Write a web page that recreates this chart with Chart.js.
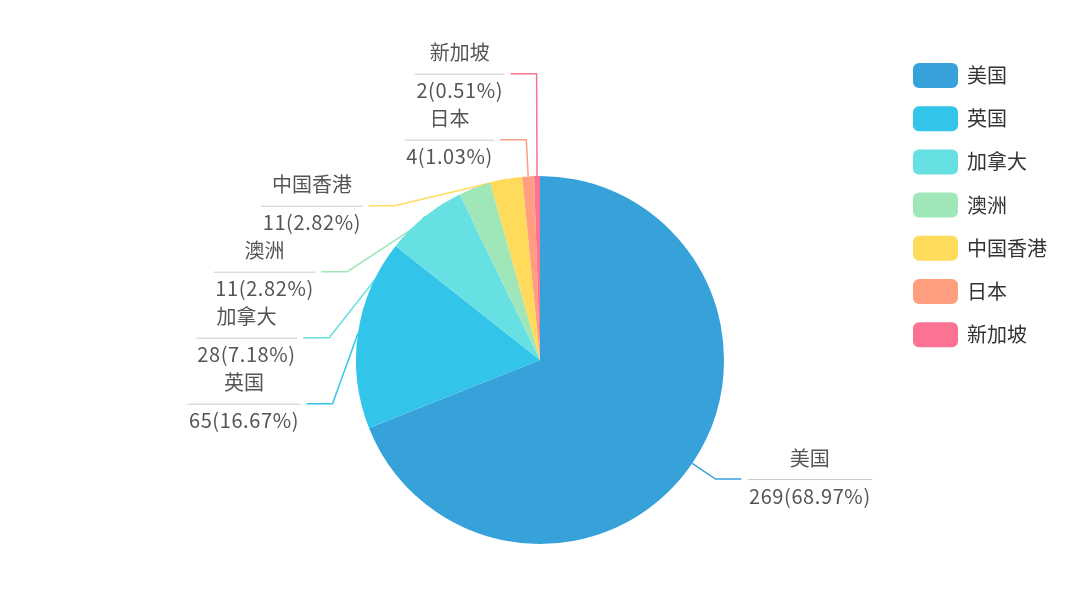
<!DOCTYPE html>
<html>
<head>
<meta charset="utf-8">
<script src="https://cdn.jsdelivr.net/npm/chart.js@4"></script>
<style>
	html, body { margin: 0; padding: 0; background: #ffffff; }
	#chart { display: block; }
</style>
</head>
<body>
<canvas id="chart" width="1080" height="589"></canvas>
<script>
// regions and the counts per region
const regions = ["美国", "英国", "加拿大", "澳洲", "中国香港", "日本", "新加坡"]
const counts = [269, 65, 28, 11, 11, 4, 2]
const sliceColors = ["#37a2da", "#32c5e9", "#67e0e3", "#9fe6b8", "#ffdb5c", "#ff9f7f", "#fb7293"]

const FONT = "\"Noto Sans CJK SC\", \"Noto Sans\", sans-serif"
const total = counts.reduce((a, b) => a + b, 0)

function valueText(i) {
	return counts[i] + "(" + (counts[i] / total * 100).toFixed(2) + "%)"
}

// label lines: out along the middle of the slice, then flat to the side
const len1 = 28
const len2 = 26
const labelGap = 66

function layoutLabels(chart) {
	let arcs = chart.getDatasetMeta(0).data
	let items = []
	arcs.forEach((arc, i) => {
		let p = arc.getProps(["x", "y", "startAngle", "endAngle", "outerRadius"], true)
		let mid = (p.startAngle + p.endAngle) / 2
		let R = p.outerRadius + len1
		items.push({
			i: i,
			cx: p.x, cy: p.y, R: R,
			dir: Math.cos(mid) >= 0 ? 1 : -1,
			sx: p.x + p.outerRadius * Math.cos(mid),
			sy: p.y + p.outerRadius * Math.sin(mid),
			bx: p.x + R * Math.cos(mid),
			by: p.y + R * Math.sin(mid)
		})
	})

	for(let dir of [1, -1]) {
		let side = items.filter(it => it.dir == dir).sort((a, b) => a.by - b.by)
		if(side.length < 2) continue
		let crowded = false
		for(let k = 1; k < side.length; k++) {
			if(side[k].by - side[k-1].by < labelGap) crowded = true
		}
		if(!crowded) continue
		let center = (side[0].by + side[side.length - 1].by) / 2
		let top = center - (side.length - 1) * labelGap / 2
		side.forEach((it, k) => {
			it.by = top + k * labelGap
			let dy = it.by - it.cy
			if(Math.abs(dy) < it.R) {
				it.bx = it.cx + dir * Math.sqrt(it.R * it.R - dy * dy)
			}
		})
	}
	items.forEach(it => { it.ex = it.bx + it.dir * len2 })
	return items
}

const sliceLabels = {
	id: "sliceLabels",
	beforeDatasetsDraw(chart) {
		let ctx = chart.ctx
		chart.$labels = layoutLabels(chart)
		ctx.save()
		ctx.lineWidth = 1.5
		for(let it of chart.$labels) {
			ctx.strokeStyle = sliceColors[it.i]
			ctx.beginPath()
			ctx.moveTo(it.sx, it.sy)
			ctx.lineTo(it.bx, it.by)
			ctx.lineTo(it.ex, it.by)
			ctx.stroke()
		}
		ctx.restore()
	},
	afterDatasetsDraw(chart) {
		let ctx = chart.ctx
		ctx.save()
		ctx.font = "20px " + FONT
		ctx.textAlign = "center"
		ctx.textBaseline = "middle"
		for(let it of chart.$labels) {
			let name = regions[it.i]
			let val = valueText(it.i)
			ctx.letterSpacing = "0px"
			let nameW = ctx.measureText(name).width
			ctx.letterSpacing = "0.6px"
			let valW = ctx.measureText(val).width
			let w = Math.max(nameW, valW) + 3
			let x0 = it.dir > 0 ? it.ex + 6 : it.ex - 6 - w
			ctx.strokeStyle = "#cccccc"
			ctx.lineWidth = 1
			ctx.beginPath()
			ctx.moveTo(x0, it.by + 0.5)
			ctx.lineTo(x0 + w, it.by + 0.5)
			ctx.stroke()
			ctx.fillStyle = "#555555"
			ctx.letterSpacing = "0px"
			ctx.fillText(name, x0 + w / 2, it.by - 21)
			ctx.letterSpacing = "0.6px"
			ctx.fillText(val, x0 + w / 2, it.by + 17)
		}
		ctx.restore()
	},
	afterDraw(chart) {
		// legend on the right, one row per region
		let ctx = chart.ctx
		ctx.save()
		ctx.font = "20px " + FONT
		ctx.textBaseline = "middle"
		ctx.textAlign = "left"
		regions.forEach((name, i) => {
			let y = 63 + i * 43.2
			ctx.fillStyle = sliceColors[i]
			ctx.beginPath()
			ctx.roundRect(913, y, 45, 25, 6)
			ctx.fill()
			ctx.fillStyle = "#333333"
			ctx.fillText(name, 967, y + 12.5)
		})
		ctx.restore()
	}
}

new Chart(document.getElementById("chart"), {
	type: "pie",
	data: {
		labels: regions,
		datasets: [{
			data: counts,
			backgroundColor: sliceColors,
			borderWidth: 0,
			hoverOffset: 0
		}]
	},
	options: {
		responsive: false,
		animation: false,
		devicePixelRatio: 1,
		layout: {
			padding: { left: 356, right: 356, top: 176, bottom: 45 }
		},
		plugins: {
			legend: { display: false },
			tooltip: { enabled: false }
		},
		events: []
	},
	plugins: [sliceLabels]
})
</script>
</body>
</html>
